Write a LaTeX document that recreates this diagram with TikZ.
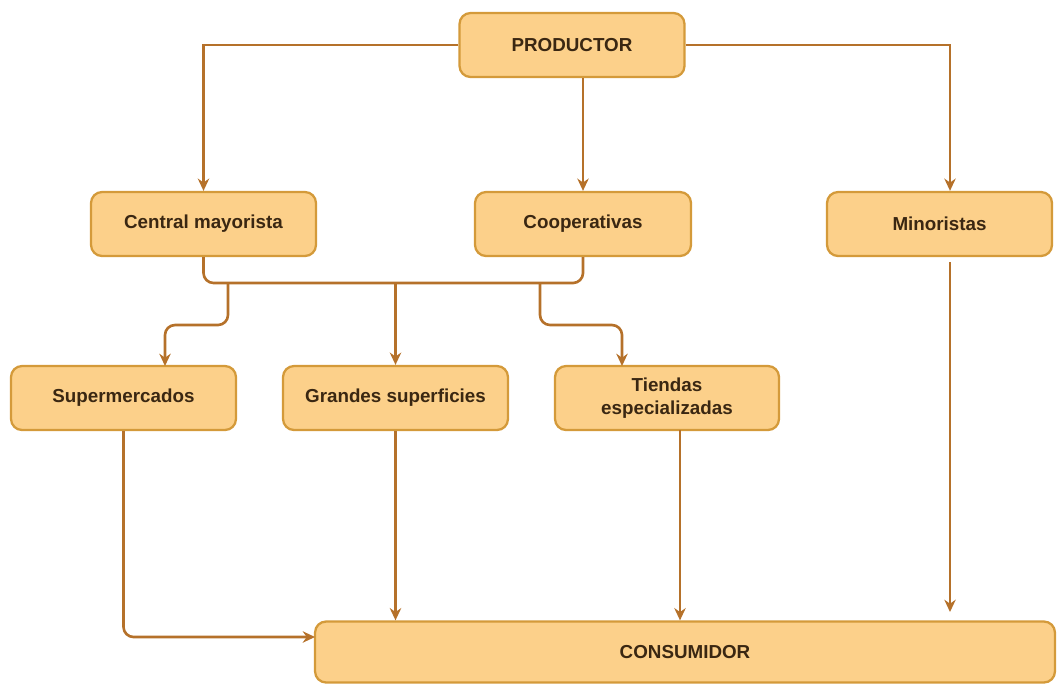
\documentclass[tikz,border=0pt]{standalone}
\usepackage{fontspec}
\setmainfont{Liberation Sans}
\usetikzlibrary{arrows.meta}
\definecolor{boxfill}{HTML}{FCD08A}
\definecolor{boxline}{HTML}{D49A3A}
\definecolor{wire}{HTML}{B5712A}
\definecolor{txt}{HTML}{3A2712}
\begin{document}
\begin{tikzpicture}[x=0.02cm,y=-0.02cm]
    \tikzset{box/.style={draw=boxline,fill=boxfill,line width=1.3pt,rounded corners=0.22cm,
        minimum width=4.5cm,minimum height=1.28cm,inner sep=0pt,align=center,
        text=txt,font=\bfseries\fontsize{10.7}{13}\selectfont},
      link/.style={draw=wire,line width=1.5pt,-{Stealth[length=7pt,width=6.5pt]}},
      bus/.style={draw=wire,line width=1.5pt,rounded corners=0.2cm}};
    \useasboundingbox (0,0) rectangle (1057,683);
    % boxes
    \node[box] (prod) at (572,45) {PRODUCTOR};
    \node[box] (cent) at (203.5,224) {Central mayorista};
    \node[box,minimum width=4.32cm] (coop) at (583,224) {Cooperativas};
    \node[box] (mino) at (939.5,224) {Minoristas};
    \node[box] (sup) at (123.5,398) {Supermercados};
    \node[box] (gran) at (395.5,398) {Grandes superficies};
    \node[box,minimum width=4.48cm] (tien) at (667,398) {Tiendas\\especializadas};
    \node[box,minimum width=14.8cm,minimum height=1.22cm] (cons) at (685,652) {CONSUMIDOR};
    % helper points
    \coordinate (j) at (398,283);
    \coordinate (b1) at (228,283);
    \coordinate (b3) at (540,283);
    \coordinate (t1) at (165,366);
    \coordinate (t3) at (622,366);
    \coordinate (c1) at (315,637);
    \coordinate (p3) at (680,430);
    \coordinate (m1) at (950,262);
    \coordinate (m2) at (950,612);
    % connectors
    \draw[link] (prod.west) -| (cent.north);
    \draw[link] (coop.north |- prod.south) -- (coop.north);
    \draw[link] (prod.east) -| (m1 |- mino.north);
    \draw[bus] (cent.south) |- (j) -| (coop.south);
    \draw[link,rounded corners=0.2cm] (b1) -- (228,325) -| (t1);
    \draw[link] (gran.north |- j) -- (gran.north);
    \draw[link,rounded corners=0.2cm] (b3) -- (540,325) -| (t3);
    \draw[link,rounded corners=0.2cm] (sup.south) |- (c1);
    \draw[link] (gran.south) -- (gran.south |- cons.north);
    \draw[link] (p3) -- (p3 |- cons.north);
    \draw[link] (m1) -- (m2);
\end{tikzpicture}
\end{document}
